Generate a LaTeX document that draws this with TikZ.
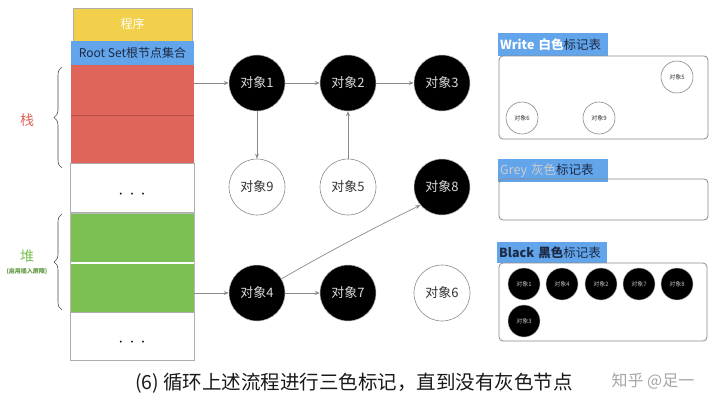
\documentclass[tikz,border=0pt]{standalone}
\usepackage{fontspec}
\setmainfont{Noto Sans CJK SC}
\usetikzlibrary{arrows.meta,decorations.pathreplacing}
\definecolor{cyel}{HTML}{F2D04B}
\definecolor{cblue}{HTML}{62A5EA}
\definecolor{cred}{HTML}{DF645A}
\definecolor{cgreen}{HTML}{7CBF52}
\definecolor{cgray}{HTML}{8A8A8A}
\definecolor{lbl}{HTML}{1E2A44}
\begin{document}
\begin{tikzpicture}[x=1pt,y=-1pt,
  cell/.style={draw=cgray!70,line width=0.6pt},
  bobj/.style={circle,fill=black,draw=cgray!60,line width=0.5pt,minimum size=56pt,inner sep=0pt,text=white!85!black,font=\fontsize{13}{13}\selectfont},
  wobj/.style={circle,fill=white,draw=cgray,line width=0.6pt,minimum size=56pt,inner sep=0pt,text=black!80,font=\fontsize{13}{13}\selectfont},
  sbobj/.style={circle,fill=black,draw=cgray!60,line width=0.4pt,minimum size=32pt,inner sep=0pt,text=white!75!black,font=\fontsize{6}{6}\selectfont},
  swobj/.style={circle,fill=white,draw=cgray,line width=0.6pt,minimum size=32pt,inner sep=0pt,text=black!80,font=\fontsize{6}{6}\selectfont},
  conn/.style={-{Stealth[length=5pt,width=4pt]},draw=cgray,line width=0.7pt},
  tbl/.style={draw=cgray,line width=0.8pt,rounded corners=4pt},
  tag/.style={fill=cblue,anchor=north west,minimum width=110pt,minimum height=23pt,inner sep=2pt,text width=106pt,align=left,font=\fontsize{12.5}{12.5}\selectfont},
  brc/.style={decorate,decoration={brace,amplitude=8pt},draw=black!70,line width=0.6pt}]
\useasboundingbox (0,0) rectangle (720,404);
\fill[white] (0,0) rectangle (720,404);
% left column
\draw[cell,fill=cyel] (73,8) rectangle (192,41);
\node[text=white,font=\fontsize{12}{12}\selectfont] (prog) at (132.5,24) {程序};
\fill[cblue] (71,41) rectangle (194,65);
\node[text=lbl,font=\fontsize{12}{12}\selectfont] (root) at (132.5,53) {Root Set根节点集合};
\fill[cred] (71,65) rectangle (194,163);
\draw[cred!80!black,line width=0.6pt] (71,115) -- (194,115);
\coordinate (s1) at (194,83);
\draw[cell] (70,163) rectangle (194,212);
\node[font=\fontsize{9}{9}\selectfont] (dots1) at (132,195) {· · ·};
\fill[cgreen] (70,213) rectangle (194,261.5);
\fill[cgreen] (70,264) rectangle (194,312);
\draw[cgray!60,line width=0.5pt] (70,213) rectangle (194,312);
\coordinate (h1) at (194,293);
\draw[cell] (70,312) rectangle (194,360);
\node[font=\fontsize{9}{9}\selectfont] (dots2) at (132,343) {· · ·};
% braces
\draw[brc] (62,168) -- (62,67);
\node[text=cred,font=\fontsize{14}{14}\selectfont] (zhan) at (27,120) {栈};
\draw[brc] (62,310) -- (62,214);
\node[text=cgreen,font=\fontsize{14}{14}\selectfont] (dui) at (27,256) {堆};
\node[text=cgreen!80!black,font=\fontsize{6}{6}\selectfont\bfseries] (dui2) at (27,272) {(启用插入屏障)};
% graph
\node[bobj] (o1) at (257,83) {对象1};
\node[bobj] (o2) at (348,83) {对象2};
\node[bobj] (o3) at (442,83) {对象3};
\node[wobj] (o9) at (257,187) {对象9};
\node[wobj] (o5) at (348,187) {对象5};
\node[bobj] (o8) at (442,187) {对象8};
\node[bobj] (o4) at (257,293) {对象4};
\node[bobj] (o7) at (348,293) {对象7};
\node[wobj] (o6) at (442,293) {对象6};
\draw[conn] (s1) -- (o1);
\draw[conn] (o1) -- (o2);
\draw[conn] (o2) -- (o3);
\draw[conn] (o1) -- (o9);
\draw[conn] (o5) -- (o2);
\draw[conn] (h1) -- (o4);
\draw[conn] (o4) -- (o7);
\draw[conn] (o4.30) .. controls (340,245) and (390,220) .. (o8.220);
% white table
\node[tag] (tw) at (498,33) {\textcolor{white}{\bfseries Write 白色}\textcolor{lbl}{标记表}};
\draw[tbl] (499,56) rectangle (708,139);
\node[swobj] (w5) at (677,77) {对象5};
\node[swobj] (w6) at (522,118) {对象6};
\node[swobj] (w9) at (599,118) {对象9};
% grey table
\node[tag] (tg) at (498,159) {\textcolor{white!80!black}{Grey 灰色}\textcolor{lbl}{标记表}};
\draw[tbl] (499,179) rectangle (708,220);
% black table
\node[tag,minimum height=21pt] (tb) at (497,242) {\textcolor{lbl}{\bfseries Black 黑色}\textcolor{lbl}{标记表}};
\draw[tbl] (499,263) rectangle (707,341);
\node[sbobj] (b1) at (524,284) {对象1};
\node[sbobj] (b4) at (562,284) {对象4};
\node[sbobj] (b2) at (601,284) {对象2};
\node[sbobj] (b7) at (639,284) {对象7};
\node[sbobj] (b8) at (677,284) {对象8};
\node[sbobj] (b3) at (524,321) {对象3};
% caption
\node[font=\fontsize{19.5}{19.5}\selectfont,text=black!90] (cap) at (354,383) {(6) 循环上述流程进行三色标记，直到没有灰色节点};
\node[font=\fontsize{16}{16}\selectfont,text=black!35] (wm) at (653,381) {知乎 @足一};
\end{tikzpicture}
\end{document}
